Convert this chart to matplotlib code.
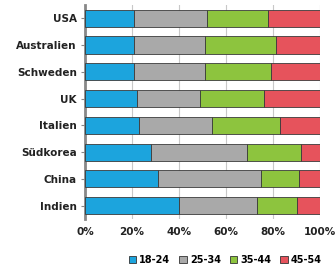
import matplotlib
matplotlib.use("Agg")
import matplotlib.pyplot as plt
from matplotlib.patches import Patch
import numpy as np

countries = ["USA", "Australien", "Schweden", "UK", "Italien", "Südkorea", "China", "Indien"]
age_groups = ["18-24", "25-34", "35-44", "45-54"]
s18_24 = [21, 21, 21, 22, 23, 28, 31, 40]
s25_34 = [31, 30, 30, 27, 31, 41, 44, 33]
s35_44 = [26, 30, 28, 27, 29, 23, 16, 17]
s45_54 = [22, 19, 21, 24, 17, 8, 9, 10]
colors = ["#1ca4dd", "#a9a9a9", "#8dc43e", "#e6535c"]
xticks = [0, 20, 40, 60, 80, 100]
xticklabels = ["0%", "20%", "40%", "60%", "80%", "100%"]

fig = plt.figure(figsize=(3.36, 2.71), dpi=100)
ax = fig.add_axes([0.253, 0.192, 0.70, 0.79])

y = np.arange(len(countries))
left = np.zeros(len(countries))
for vals, c in zip([s18_24, s25_34, s35_44, s45_54], colors):
    ax.barh(y, vals, left=left, color=c, height=0.64, edgecolor="#3a3a3a", linewidth=0.6, zorder=3)
    left += np.array(vals)

ax.set_xlim(0, 100)
ax.set_ylim(len(countries) - 0.5, -0.5)
ax.set_yticks(y)
ax.set_yticklabels(countries, fontsize=7.5, fontweight="bold", color="#222222")
ax.set_xticks(xticks)
ax.set_xticklabels(xticklabels, fontsize=7.5, fontweight="bold", color="#222222")
ax.xaxis.grid(True, color="#c8c8c8", linewidth=0.8, zorder=0)
for s in ["top", "right", "bottom"]:
    ax.spines[s].set_visible(False)
ax.spines["left"].set_color("#888888")
ax.spines["left"].set_linewidth(2)
ax.tick_params(axis="y", length=3, color="#888888", pad=3)
ax.tick_params(axis="x", length=0, pad=6)

handles = [Patch(facecolor=c, edgecolor="#333333", linewidth=0.6) for c in colors]
fig.legend(handles, age_groups, loc="lower center", bbox_to_anchor=(0.67, -0.01), ncol=4,
           frameon=False, handlelength=0.8, handleheight=0.8,
           handletextpad=0.3, columnspacing=0.9, prop={"weight": "bold", "size": 7})

fig.savefig("out.png", dpi=100)
